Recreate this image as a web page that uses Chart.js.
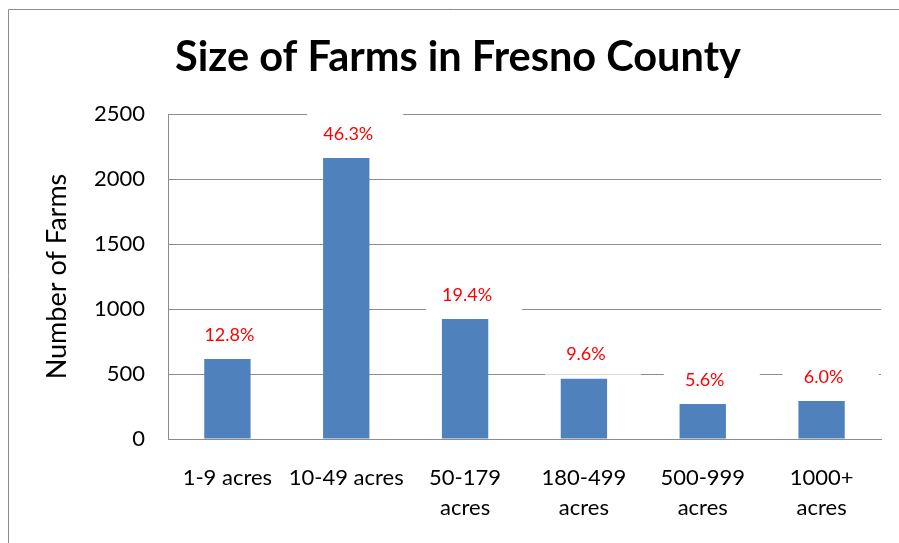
<!DOCTYPE html>
<html>
<head>
<meta charset="utf-8">
<script src="https://cdn.jsdelivr.net/npm/chart.js@4/dist/chart.umd.min.js"></script>
<style>
  html, body { margin: 0; padding: 0; background: #fff; }
  #wrap { width: 899px; height: 543px; position: relative; }
</style>
</head>
<body>
<div id="wrap"><canvas id="farmChart" width="899" height="543"></canvas></div>
<script>
// Chart data
const sizeClasses = ['1-9 acres', '10-49 acres', ['50-179', 'acres'], ['180-499', 'acres'], ['500-999', 'acres'], ['1000+', 'acres']];
const farmCounts = [615, 2162, 923, 464, 269, 292];
const shareLabels = ['12.8%', '46.3%', '19.4%', '9.6%', '5.6%', '6.0%'];
const yTicks = [0, 500, 1000, 1500, 2000, 2500];

const FONT = 'Lato, "Open Sans", sans-serif';

// outer frame (only top and left edges show in the picture)
const framePlugin = {
  id: 'frame',
  beforeDraw(chart) {
    const ctx = chart.ctx;
    ctx.save();
    ctx.strokeStyle = '#8c8c8c';
    ctx.lineWidth = 1;
    ctx.beginPath();
    ctx.moveTo(8.5, chart.height);
    ctx.lineTo(8.5, 9.5);
    ctx.lineTo(chart.width, 9.5);
    ctx.stroke();
    ctx.restore();
  }
};

// percentage labels on white boxes
const shareLabelPlugin = {
  id: 'shareLabels',
  afterDatasetsDraw(chart) {
    const ctx = chart.ctx;
    const bars = chart.getDatasetMeta(0).data;
    ctx.save();
    ctx.font = '18px ' + FONT;
    ctx.textAlign = 'center';
    ctx.textBaseline = 'middle';
    bars.forEach((bar, i) => {
      const cx = bar.x + 2;
      const cy = bar.y - 24;
      ctx.fillStyle = '#ffffff';
      ctx.fillRect(cx - 41, cy - 23, 96, 43);
      ctx.fillStyle = '#ff0000';
      ctx.fillText(shareLabels[i], cx, cy);
    });
    ctx.restore();
  }
};

const titlePlugin = {
  id: 'bigTitle',
  afterDraw(chart) {
    const ctx = chart.ctx;
    ctx.save();
    ctx.font = 'bold 41.5px ' + FONT;
    ctx.fillStyle = '#000';
    ctx.textAlign = 'center';
    ctx.textBaseline = 'middle';
    ctx.fillText('Size of Farms in Fresno County', 458, 58);
    ctx.restore();
  }
};

new Chart(document.getElementById('farmChart'), {
  type: 'bar',
  data: {
    labels: sizeClasses,
    datasets: [{
      data: farmCounts,
      backgroundColor: '#4f81bd',
      borderWidth: 0,
      categoryPercentage: 1,
      barPercentage: 0.39
    }]
  },
  options: {
    responsive: false,
    animation: false,
    layout: { padding: { top: 114, right: 18, bottom: 0, left: 0 } },
    plugins: {
      legend: { display: false },
      tooltip: { enabled: false },
      title: { display: false }
    },
    scales: {
      x: {
        grid: { drawOnChartArea: false, drawTicks: false },
        border: { color: '#8c8c8c', width: 1 },
        ticks: {
          color: '#000',
          font: { family: FONT, size: 22, lineHeight: '30px' },
          padding: 24,
          maxRotation: 0,
          autoSkip: false
        },
        afterFit(scale) { scale.height = 104; }
      },
      y: {
        min: 0,
        max: 2500,
        afterBuildTicks(scale) { scale.ticks = yTicks.map(v => ({ value: v })); },
        grid: { color: '#8c8c8c', drawTicks: false },
        border: { color: '#8c8c8c', width: 1 },
        ticks: {
          color: '#000',
          font: { family: FONT, size: 22 },
          padding: 23,
          callback: v => String(v)
        },
        title: {
          display: true,
          text: 'Number of Farms',
          color: '#000',
          font: { family: FONT, size: 27 },
          padding: { top: 41, bottom: 0 }
        },
        afterFit(scale) { scale.width = 168; }
      }
    }
  },
  plugins: [framePlugin, shareLabelPlugin, titlePlugin]
});
</script>
</body>
</html>
